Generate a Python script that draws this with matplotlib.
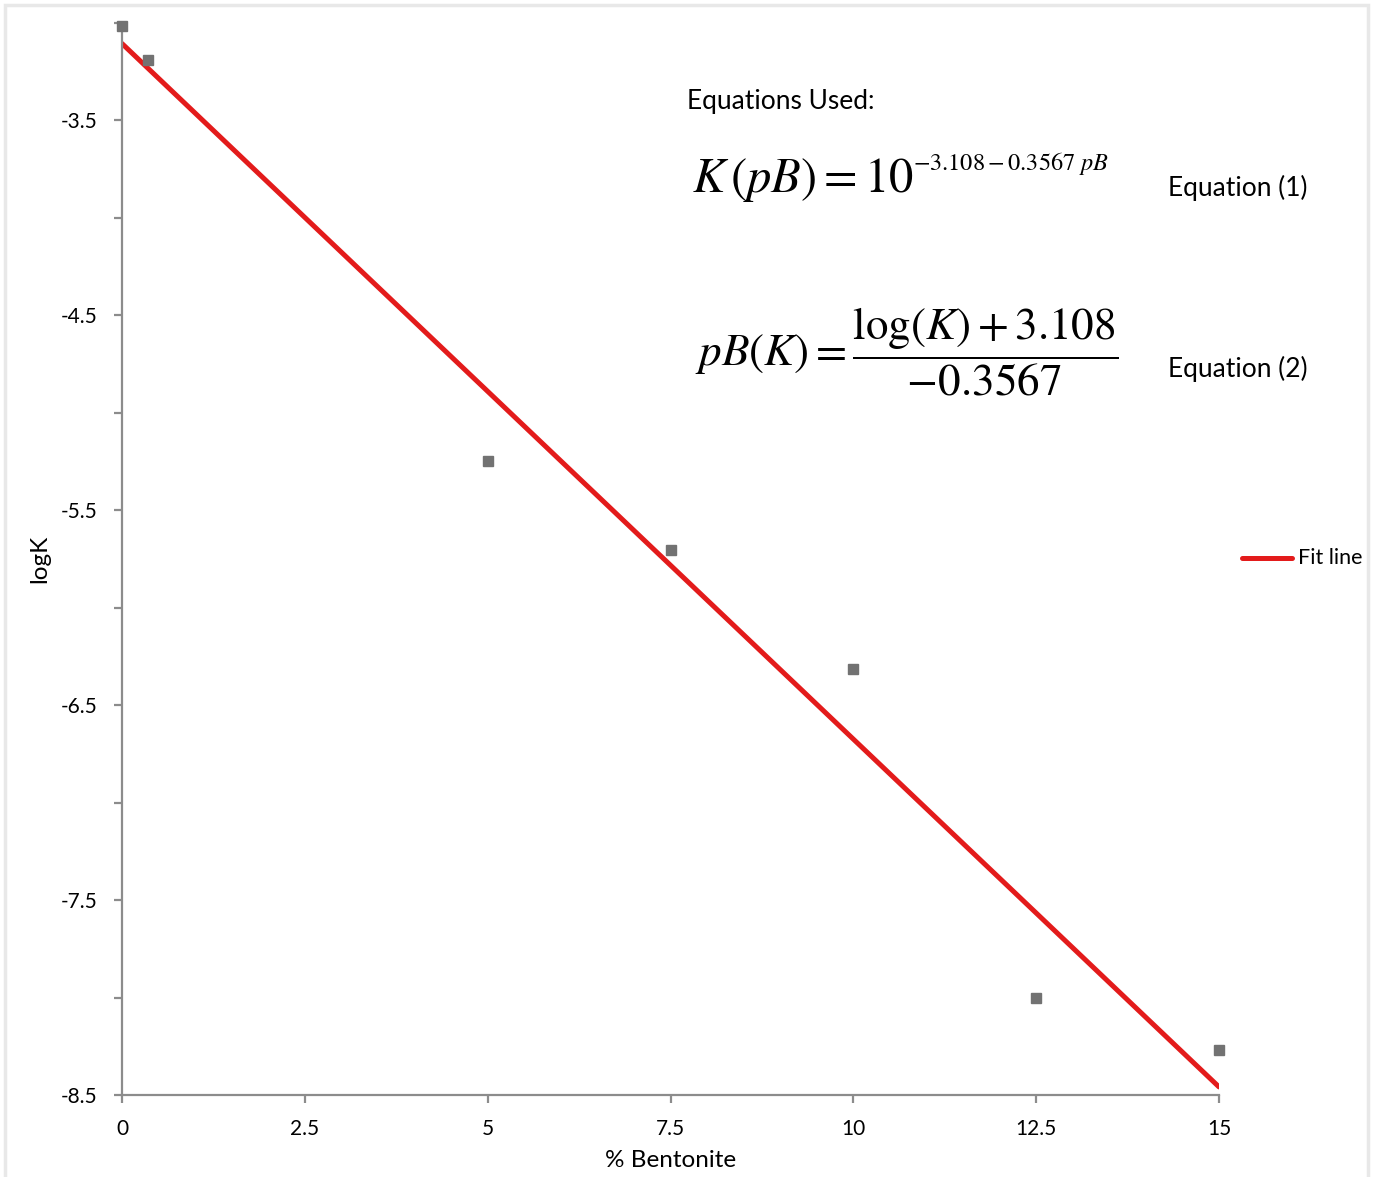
import matplotlib
matplotlib.use('Agg')
import matplotlib.pyplot as plt
from matplotlib.patches import Rectangle
from matplotlib.lines import Line2D

# dados
bentonite = [0, 0.36, 5, 7.5, 10, 12.5, 15]
logk = [-3.02, -3.19, -5.25, -5.705, -6.315, -8.005, -8.27]

# linha de ajuste: logK = -3.108 - 0.3567 pB
fit_x = [0, 15]
fit_y = [-3.108, -8.4585]

x_ticks = [0, 2.5, 5, 7.5, 10, 12.5, 15]
x_labels = ['0', '2.5', '5', '7.5', '10', '12.5', '15']
y_major = [-8.5, -7.5, -6.5, -5.5, -4.5, -3.5]
y_minor = [-8.0, -7.0, -6.0, -5.0, -4.0, -3.0]

W, H = 1373, 1177
plt.rcParams['font.family'] = ['Lato', 'DejaVu Sans']
plt.rcParams['mathtext.fontset'] = 'stix'

fig = plt.figure(figsize=(W / 100, H / 100), dpi=100)

def fx(x):
    return x / W

def fy(y):
    return 1 - y / H

# moldura cinza clara
fig.patches.append(Rectangle((fx(5), fy(1190)), fx(1368) - fx(5), fy(5) - fy(1190),
                             transform=fig.transFigure, fill=False,
                             edgecolor='#e8e8e8', linewidth=2.5))

ax = fig.add_axes([fx(122), fy(1095), fx(1219) - fx(122), fy(22.5) - fy(1095)])

ax.plot(fit_x, fit_y, color='#e31b1b', linewidth=3.6, solid_capstyle='round', zorder=2)
ax.plot(bentonite, logk, linestyle='none', marker='s', markersize=7.5,
        color='#727272', clip_on=False, zorder=3)

ax.set_xlim(0, 15)
ax.set_ylim(-8.5, -3.0)

ax.set_xticks(x_ticks)
ax.set_xticklabels(x_labels)
ax.set_yticks(y_major)
ax.set_yticklabels([str(v) for v in y_major])
ax.set_yticks(y_minor, minor=True)

for s in ['top', 'right']:
    ax.spines[s].set_visible(False)
for s in ['left', 'bottom']:
    ax.spines[s].set_color('#8c8c8c')
    ax.spines[s].set_linewidth(1.6)

ax.tick_params(axis='both', which='both', direction='out', length=5.5, width=1.6,
               color='#8c8c8c', labelsize=15, pad=12)

ax.set_xlabel('% Bentonite', fontsize=17.5, labelpad=8)
ax.set_ylabel('logK', fontsize=17.5, labelpad=8)

# equacoes
fig.text(fx(687), fy(102), 'Equations Used:', fontsize=19, va='center', ha='left')
fig.text(fx(692), fy(180), r'$K\,(pB) = 10$', fontsize=35, va='center', ha='left')
fig.text(fx(913), fy(163), r'$-3.108 - 0.3567\ pB$', fontsize=17.5, va='center', ha='left')
fig.text(fx(1168), fy(188), 'Equation (1)', fontsize=19, va='center', ha='left')
fig.text(fx(695), fy(352), r'$pB(K) = \dfrac{\log(K) + 3.108}{-0.3567}$', fontsize=32.5,
         va='center', ha='left')
fig.text(fx(1168), fy(369), 'Equation (2)', fontsize=19, va='center', ha='left')

# legenda
fig.lines.append(Line2D([fx(1242), fx(1292)], [fy(558), fy(558)], transform=fig.transFigure,
                        color='#e31b1b', linewidth=3.6, solid_capstyle='round'))
fig.text(fx(1298), fy(558), 'Fit line', fontsize=15.5, va='center', ha='left')

plt.savefig('out.png', dpi=100)
